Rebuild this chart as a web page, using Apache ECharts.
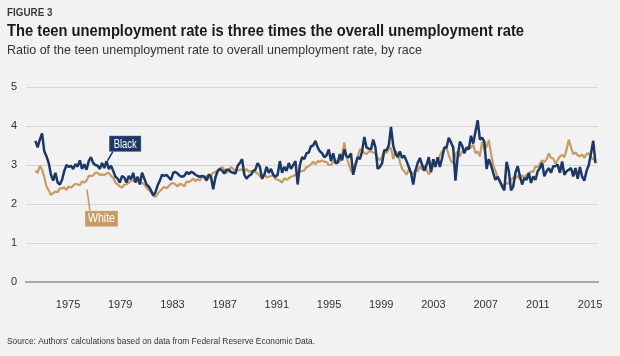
<!DOCTYPE html>
<html>
<head>
<meta charset="utf-8">
<script src="https://cdn.jsdelivr.net/npm/echarts@6/dist/echarts.min.js"></script>
<style>
html,body{margin:0;padding:0;background:#f2f2f2;}
#c{width:620px;height:356px;}
</style>
</head>
<body>
<div id="c"></div>
<script>
// ---------- data ----------
const startYear = 1972.5;      // first sample (decimal year)
const stepYears = 0.1703;      // spacing between samples (about two months)

const blackRatio = [
  3.62, 3.45, 3.65,
  3.81, 3.35, 3.22, 3.05, 2.75, 2.6,
  2.8, 2.55, 2.5, 2.62, 2.85, 3.0,
  2.95, 2.98, 2.9, 3.02, 2.96, 3.12,
  2.9, 3.02, 2.88, 3.1, 3.2, 3.05,
  3.0, 2.98, 2.9, 3.05, 2.92, 3.1,
  2.9, 2.98, 2.85, 2.7, 2.65, 2.55,
  2.72, 2.68, 2.55, 2.72, 2.63, 2.8,
  2.55, 2.7, 2.5, 2.8, 2.65, 2.5,
  2.45, 2.35, 2.22, 2.3, 2.48, 2.6,
  2.75, 2.72, 2.75, 2.68, 2.62, 2.8,
  2.82, 2.78, 2.72, 2.7, 2.72, 2.82,
  2.77, 2.82, 2.8, 2.75, 2.72, 2.7,
  2.72, 2.7, 2.6, 2.76, 2.7, 2.38,
  2.68, 2.84, 2.9, 2.86, 2.78, 2.88,
  2.88, 2.82, 2.8, 2.78, 2.98, 3.05,
  3.15, 2.75, 2.65, 2.72, 2.75, 2.85,
  2.88, 3.05, 2.95, 2.65, 2.75, 2.95,
  2.8, 2.9, 2.75, 2.7, 2.75, 3.1,
  2.8, 2.95, 2.85, 3.05, 2.9, 3.0,
  3.1, 2.5, 3.0, 3.2, 3.15, 3.3,
  3.32, 3.48, 3.5, 3.62, 3.45, 3.35,
  3.3, 3.2, 3.25, 3.4, 3.1, 3.3,
  3.05, 3.05, 3.28, 3.12, 3.4, 3.22,
  3.2, 3.3, 2.75, 3.0, 3.2, 3.15,
  3.35, 3.72, 3.45, 3.42, 3.4, 3.65,
  3.45, 2.9, 2.95, 3.05, 3.38, 3.38,
  3.5, 3.98, 3.5, 3.3, 3.2, 3.35,
  3.18, 3.24, 3.1, 2.95, 2.8, 2.5,
  2.85, 3.05, 3.18, 3.0, 2.85, 3.0,
  3.2, 2.82, 3.15, 2.95, 3.2, 2.95,
  3.18, 3.45, 3.45, 3.7, 3.58, 3.45,
  2.6, 3.2, 3.6, 3.5, 3.3, 3.45,
  3.4, 3.75, 3.55, 3.85, 4.15, 3.65,
  3.7, 3.6, 2.9, 3.15, 3.0, 2.8,
  2.62, 2.7, 2.58, 2.45, 2.35, 3.08,
  2.85, 2.35, 2.45, 2.8, 2.97, 2.72,
  2.5, 2.67, 2.62, 2.8, 2.54, 2.71,
  2.62, 2.84, 2.92, 3.05, 2.71, 2.84,
  2.92, 2.8, 2.97, 2.97, 3.01, 2.8,
  3.09, 2.75, 2.84, 2.88, 2.92, 2.71,
  2.92, 2.65, 2.95, 2.7, 2.6, 2.85,
  3.0, 3.3, 3.62, 3.05
];

const whiteRatio = [
  2.85, 2.8, 2.98,
  2.88, 2.7, 2.45, 2.35, 2.23, 2.28,
  2.32, 2.3, 2.4, 2.4, 2.42, 2.36,
  2.45, 2.42, 2.47, 2.52, 2.5, 2.48,
  2.58, 2.55, 2.6, 2.72, 2.72, 2.73,
  2.8, 2.8, 2.74, 2.76, 2.74, 2.78,
  2.8, 2.72, 2.67, 2.55, 2.5, 2.45,
  2.42, 2.5, 2.5, 2.55, 2.6, 2.6,
  2.58, 2.62, 2.52, 2.55, 2.5, 2.42,
  2.36, 2.3, 2.22, 2.18, 2.26, 2.33,
  2.39, 2.44, 2.4, 2.46, 2.52, 2.54,
  2.5, 2.45, 2.52, 2.5, 2.45, 2.58,
  2.56, 2.6, 2.65, 2.58, 2.64, 2.6,
  2.7, 2.68, 2.72, 2.64, 2.74, 2.8,
  2.82, 2.86, 2.92, 2.95, 2.88, 2.8,
  2.85, 2.95, 2.9, 2.85, 2.86, 2.88,
  2.88, 2.84, 2.9, 2.83, 2.85, 2.82,
  2.82, 2.78, 2.72, 2.65, 2.76, 2.68,
  2.7, 2.72, 2.73, 2.64, 2.62, 2.6,
  2.55, 2.66, 2.62, 2.66, 2.7, 2.72,
  2.75, 2.76, 2.82, 2.85, 2.86, 2.95,
  2.97, 3.02, 3.08, 3.02, 3.1, 3.08,
  3.12, 3.08, 3.08, 3.0, 3.0, 3.08,
  3.08, 3.12, 3.08, 3.25, 3.58, 3.2,
  3.02, 2.85, 2.8, 3.0, 3.22, 3.4,
  3.38, 3.3, 3.28, 3.35, 3.35, 3.32,
  3.3, 3.18, 3.12, 3.22, 3.38, 3.3,
  3.42, 3.44, 3.15, 3.35, 3.3, 3.08,
  2.9, 2.84, 2.75, 2.88, 2.82, 2.76,
  2.88, 2.84, 2.96, 2.88, 3.0, 2.88,
  2.76, 2.84, 2.96, 3.0, 3.08, 3.25,
  3.35, 3.4, 3.44, 3.26, 3.1, 3.05,
  3.28, 3.34, 3.22, 3.35, 3.36, 3.4,
  3.48, 3.44, 3.52, 3.3, 3.35, 3.22,
  3.6, 3.38, 3.48, 3.64, 3.3, 3.0,
  2.84, 2.7, 2.56, 2.5, 2.47, 2.54,
  2.52, 2.62, 2.68, 2.66, 2.72, 2.63,
  2.74, 2.68, 2.75, 2.76, 2.84, 2.82,
  2.97, 2.94, 3.03, 3.12, 3.08, 3.14,
  3.3, 3.18, 3.17, 3.03, 3.13, 3.22,
  3.26, 3.2, 3.4, 3.65, 3.45, 3.28,
  3.32, 3.25, 3.22, 3.27, 3.18, 3.28,
  3.3, 3.2, 3.14, 3.18
];

const xTickYears = [1975, 1979, 1983, 1987, 1991, 1995, 1999, 2003, 2007, 2011, 2015];
const yTicks = [0, 1, 2, 3, 4, 5];

const seriesNames = ['Black', 'White'];
const figureLabel = 'FIGURE 3';
const titleText = 'The teen unemployment rate is three times the overall unemployment rate';
const subtitleText = 'Ratio of the teen unemployment rate to overall unemployment rate, by race';
const sourceText = "Source: Authors' calculations based on data from Federal Reserve Economic Data.";

// ---------- styling / layout ----------
const COLOR_BLACK = '#1c3867';
const COLOR_WHITE = '#c79c62';
const FONT = '"Liberation Sans", Arial, sans-serif';
const X_MIN = 1971.78, X_MAX = 2015.61;

const toPts = arr => arr.map((v, i) => [startYear + i * stepYears, v]);

const chart = echarts.init(document.getElementById('c'), null, { renderer: 'canvas' });

const measureCtx = document.createElement('canvas').getContext('2d');
function fitText(str, weight, size, left, cy, targetW, color) {
  measureCtx.font = weight + ' ' + size + 'px ' + FONT;
  const w = measureCtx.measureText(str).width;
  return {
    type: 'text', x: left, y: cy, scaleX: targetW / w, silent: true,
    style: { text: str, fontSize: size, fontWeight: weight, fontFamily: FONT, fill: color,
             textAlign: 'left', textVerticalAlign: 'middle', verticalAlign: 'middle' }
  };
}

const option = {
  backgroundColor: '#f2f2f2',
  animation: false,
  grid: { left: 26, right: 22, top: 87, bottom: 74 },
  xAxis: {
    type: 'value', min: X_MIN, max: X_MAX,
    axisLine: { show: true, lineStyle: { color: '#a8a8a8', width: 2 } },
    axisTick: { show: false },
    splitLine: { show: false },
    axisLabel: { customValues: xTickYears, formatter: v => String(v), color: '#333', fontSize: 11, fontFamily: FONT, margin: 17 }
  },
  yAxis: {
    type: 'value', min: 0, max: 5, interval: 1,
    axisLine: { show: false }, axisTick: { show: false },
    splitLine: { lineStyle: { color: '#d6d6d6', width: 1.2 } },
    axisLabel: { customValues: yTicks, color: '#333', fontSize: 11, fontFamily: FONT, margin: 9 }
  },
  series: [
    { name: seriesNames[1], type: 'line', data: toPts(whiteRatio), showSymbol: false, silent: true, z: 2,
      lineStyle: { color: COLOR_WHITE, width: 2.2 }, emphasis: { disabled: true } },
    { name: seriesNames[0], type: 'line', data: toPts(blackRatio), showSymbol: false, silent: true, z: 3,
      lineStyle: { color: COLOR_BLACK, width: 2.5 }, emphasis: { disabled: true } }
  ]
};
chart.setOption(option);

// annotation anchors in data space
const annotations = [
  { label: seriesNames[0], color: COLOR_BLACK, box: [1978.15, 3.75], w: 32, h: 16, textW: 23,
    tail: [[1978.45, 3.35], [1978.03, 3.11]] },
  { label: seriesNames[1], color: COLOR_WHITE, box: [1976.3, 1.83], w: 33, h: 16, textW: 27,
    tail: [[1976.68, 1.83], [1976.45, 2.37]] }
];
const px = p => chart.convertToPixel({ gridIndex: 0 }, p);

const graphics = [
  fitText(figureLabel, 'bold', 10, 7, 13, 45.5, '#3a3a3a'),
  fitText(titleText, 'bold', 17, 7, 31.5, 517, '#1a1a1a'),
  fitText(subtitleText, 'normal', 13.5, 7, 50.5, 415, '#333333'),
  fitText(sourceText, 'normal', 9.5, 7, 341.5, 308, '#333333')
];
annotations.forEach(a => {
  const b = px(a.box);
  const t0 = px(a.tail[0]);
  const t1 = px(a.tail[1]);
  graphics.push({ type: 'line', silent: true, shape: { x1: t0[0], y1: t0[1], x2: t1[0], y2: t1[1] },
    style: { stroke: a.color, lineWidth: 1.6 }, z: 10 });
  graphics.push({ type: 'rect', silent: true, shape: { x: b[0], y: b[1], width: a.w, height: a.h },
    style: { fill: a.color, stroke: 'rgba(255,255,255,0.35)', lineWidth: 0.8 }, z: 11 });
  const t = fitText(a.label, 'normal', 12, b[0] + (a.w - a.textW) / 2, b[1] + a.h / 2 + 0.5, a.textW, '#ffffff');
  t.z = 12;
  graphics.push(t);
});
chart.setOption({ graphic: graphics });
</script>
</body>
</html>
